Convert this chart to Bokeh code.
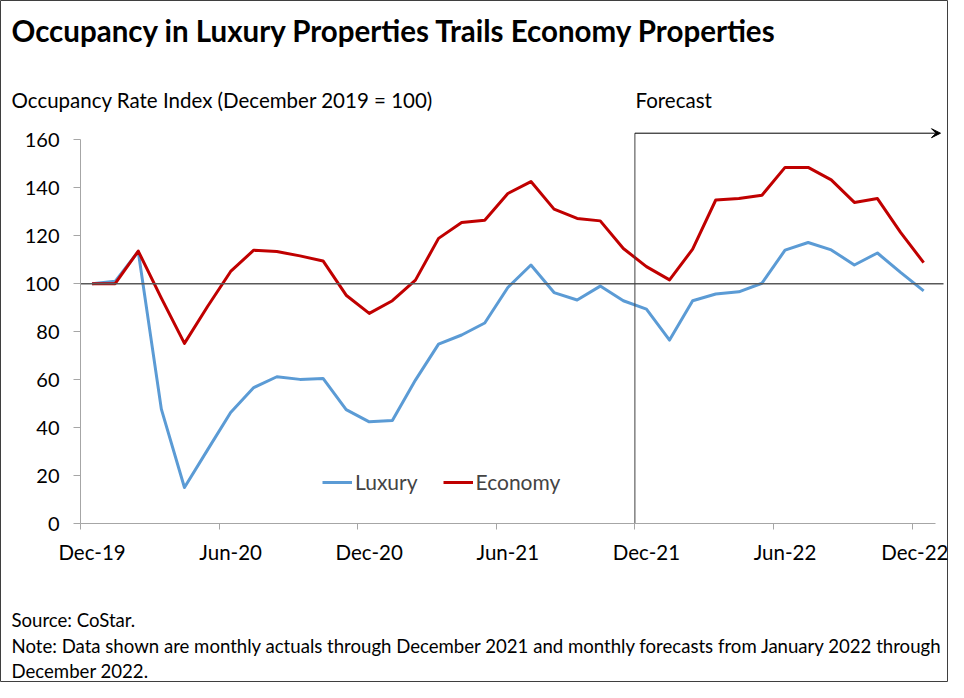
from bokeh.plotting import figure
from bokeh.models import (FixedTicker, Label, Legend, LegendItem, Arrow,
                          VeeHead, Range1d, LinearAxis)
from bokeh.embed import file_html
from bokeh.resources import INLINE

# ---------------- data ----------------
months = ["Dec-19", "Jan-20", "Feb-20", "Mar-20", "Apr-20", "May-20", "Jun-20",
          "Jul-20", "Aug-20", "Sep-20", "Oct-20", "Nov-20", "Dec-20",
          "Jan-21", "Feb-21", "Mar-21", "Apr-21", "May-21", "Jun-21",
          "Jul-21", "Aug-21", "Sep-21", "Oct-21", "Nov-21", "Dec-21",
          "Jan-22", "Feb-22", "Mar-22", "Apr-22", "May-22", "Jun-22",
          "Jul-22", "Aug-22", "Sep-22", "Oct-22", "Nov-22", "Dec-22"]

luxury = [100.0, 101.0, 113.4, 47.7, 15.0, 30.7, 46.3, 56.7, 61.2, 60.1, 60.5, 47.5, 42.4,
          43.0, 59.8, 74.8, 78.6, 83.6, 98.4, 107.8, 96.3, 93.2, 99.0, 92.9, 89.4,
          76.5, 92.9, 95.7, 96.6, 100.2, 114.0, 117.2, 114.1, 107.8, 112.8, 104.7, 97.0]

economy = [100.0, 100.0, 113.6, 94.0, 75.1, 90.5, 105.1, 114.0, 113.4, 111.6, 109.5, 95.2, 87.6,
           92.9, 101.5, 118.9, 125.5, 126.5, 137.6, 142.6, 131.1, 127.2, 126.2, 114.7, 107.1,
           101.6, 114.4, 134.9, 135.5, 136.9, 148.5, 148.5, 143.3, 133.9, 135.5, 121.4, 108.8]

tick_labels = ["Dec-19", "Jun-20", "Dec-20", "Jun-21", "Dec-21", "Jun-22", "Dec-22"]
y_ticks = [0, 20, 40, 60, 80, 100, 120, 140, 160]
baseline = 100
forecast_from = "Dec-21"

title_text = "Occupancy in Luxury Properties Trails Economy Properties"
ytitle_text = "Occupancy Rate Index (December 2019 = 100)"
forecast_text = "Forecast"
source_text = "Source: CoStar."
note_line1 = ("Note: Data shown are monthly actuals through December 2021 and monthly "
              "forecasts from January 2022 through")
note_line2 = "December 2022."

# ---------------- layout (canvas pixels) ----------------
W, H = 948, 682
AXIS_X_PX = 80      # y-axis position
AXIS_Y_PX = 523     # x-axis position (value 0)
PXM = 23.1          # pixels per month
PXU = 2.398         # pixels per index unit
TEXT_DY = -9        # correction for label baseline rendering
FONT = "Lato"

x = list(range(len(months)))
tick_pos = [months.index(t) for t in tick_labels]
boundaries = [t - 0.5 for t in tick_pos]
fc = months.index(forecast_from) - 0.5

x0 = -0.5 - AXIS_X_PX / PXM
y0 = -(H - AXIS_Y_PX) / PXU


def dx(px):
    return x0 + px / PXM


def dy(py):
    return (AXIS_Y_PX - py) / PXU


p = figure(width=W, height=H, output_backend="svg", toolbar_location=None,
           x_axis_type=None, y_axis_type=None,
           x_range=Range1d(x0, x0 + W / PXM),
           y_range=Range1d(y0, y0 + H / PXU),
           min_border=0)
p.grid.visible = False
p.outline_line_color = "#3f3f3f"
p.outline_line_width = 1
p.background_fill_color = "white"
p.border_fill_color = "white"

AX_COLOR = "#a6a6a6"
xa = LinearAxis(fixed_location=0,
                ticker=FixedTicker(ticks=tick_pos, minor_ticks=boundaries),
                major_label_overrides={t: l for t, l in zip(tick_pos, tick_labels)},
                bounds=(-0.5, len(months) - 0.5),
                axis_line_color=AX_COLOR, major_tick_line_color=None,
                major_tick_out=0, major_tick_in=0,
                minor_tick_line_color=AX_COLOR, minor_tick_out=6, minor_tick_in=0,
                major_label_standoff=10, major_label_text_font=FONT,
                major_label_text_font_size="20.5px", major_label_text_color="black")
p.add_layout(xa, "below")

ya = LinearAxis(fixed_location=-0.5,
                ticker=FixedTicker(ticks=y_ticks),
                bounds=(y_ticks[0], y_ticks[-1]),
                axis_line_color=AX_COLOR, major_tick_line_color=AX_COLOR,
                major_tick_out=7, major_tick_in=0, minor_tick_line_color=None,
                major_label_standoff=14, major_label_text_font=FONT,
                major_label_text_font_size="20px", major_label_text_color="black")
p.add_layout(ya, "left")

r_lux = p.line(x, luxury, line_color="#5B9BD5", line_width=3, line_join="round")
r_eco = p.line(x, economy, line_color="#C00000", line_width=3, line_join="round")

# reference line at 100
p.segment(x0=[-0.5], y0=[baseline], x1=[dx(943)], y1=[baseline],
          line_color="#595959", line_width=1.5)

# forecast marker
arrow_y = dy(132.7)
p.segment(x0=[fc], y0=[0], x1=[fc], y1=[arrow_y], line_color="#404040", line_width=1)
p.add_layout(Arrow(x_start=fc, y_start=arrow_y, x_end=dx(940), y_end=arrow_y,
                   line_color="black", line_width=1,
                   end=VeeHead(size=9, fill_color="black", line_color="black", line_width=1)))

legend = Legend(items=[LegendItem(label="Luxury", renderers=[r_lux]),
                       LegendItem(label="Economy", renderers=[r_eco])],
                location=(322, H - 494), orientation="horizontal",
                padding=0, margin=0, spacing=25, glyph_width=30, glyph_height=20,
                label_height=20, label_standoff=3,
                label_text_font=FONT, label_text_font_size="21px",
                border_line_color=None, background_fill_alpha=0)
p.add_layout(legend)


def add_text(txt, px, py, size, bold=False):
    p.add_layout(Label(x=dx(px), y=dy(py + TEXT_DY), text=txt, text_font=FONT,
                       text_font_size=size, text_font_style="bold" if bold else "normal",
                       text_color="black", text_align="left", text_baseline="alphabetic"))


add_text(title_text, 11, 38.5, "29.5px", bold=True)
add_text(ytitle_text, 11, 108, "20.5px")
add_text(forecast_text, 635, 108, "20.5px")
add_text(source_text, 11, 628.5, "18.6px")
add_text(note_line1, 11, 654, "18.6px")
add_text(note_line2, 11, 679, "18.6px")

open("out.html", "w").write(file_html(p, INLINE))
